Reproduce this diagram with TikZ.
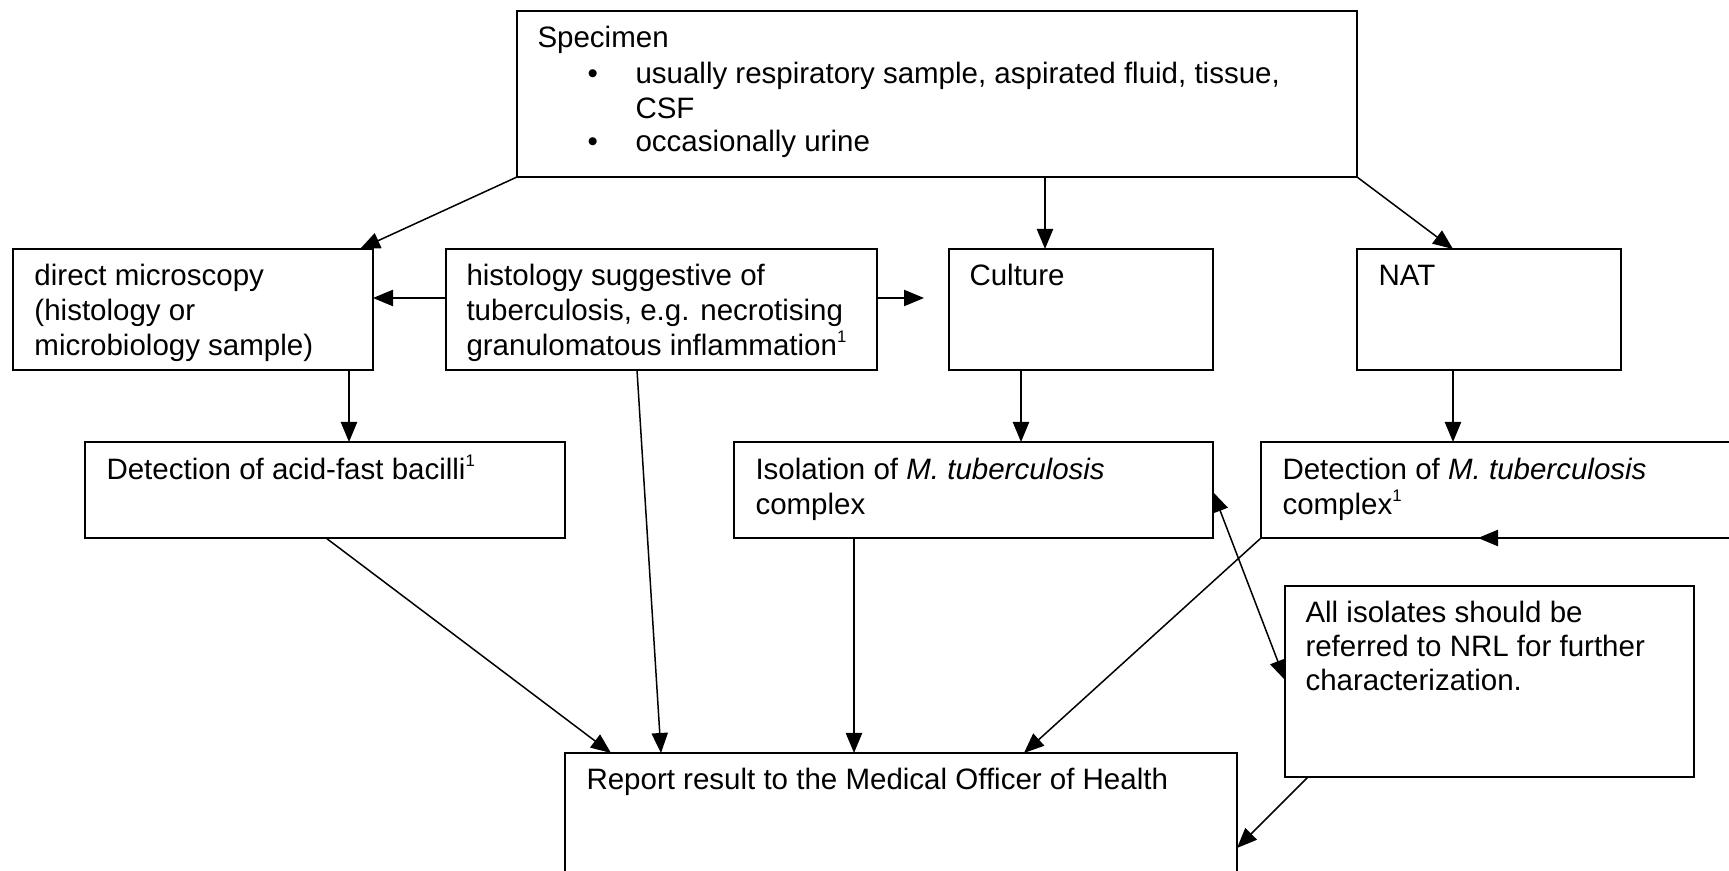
\documentclass[tikz,border=0pt]{standalone}
\usepackage{fontspec}
\setmainfont{Liberation Sans}
\usetikzlibrary{calc,arrows.meta}
\newcommand\mlines[2][14pt]{\vtop{\baselineskip=#1\lineskiplimit=-20pt\halign{##\hfil\cr#2\crcr}}}
\newcommand\fnmark{\raisebox{5.3pt}{\fontsize{6.7pt}{7pt}\selectfont 1}}
\begin{document}
\begin{tikzpicture}[x=0.4pt,y=-0.4pt,
  box/.style n args={2}{draw, line width=1pt, rectangle, anchor=north west, inner sep=0pt, outer sep=0pt,
     minimum width=#1*0.4pt, minimum height=#2*0.4pt},
  txt/.style={anchor=base west, inner sep=0pt, font=\fontsize{11.8pt}{14pt}\selectfont},
  arr/.style={-{Triangle[length=8pt,width=6.5pt]}, line width=0.6pt},
  darr/.style={{Triangle[length=8pt,width=6.5pt]}-{Triangle[length=8pt,width=6.5pt]}, line width=0.6pt}]
\useasboundingbox (0,0) rectangle (1729,871);
\fill[white] (0,0) rectangle (1729,871);
\clip (0,0) rectangle (1729,871);

% boxes
\node[box={840}{166}] (spec) at (517,11) {};
\node[box={360}{121}] (dm) at (13,249) {};
\node[box={431}{121}] (hist) at (446,249) {};
\node[box={264}{121}] (cult) at (949,249) {};
\node[box={264}{121}] (nat) at (1357,249) {};
\node[box={480}{96}] (afb) at (85,442) {};
\node[box={479}{96}] (iso) at (734,442) {};
\node[box={540}{96}] (det) at (1261,442) {};
\node[box={409}{191}] (refer) at (1285,586) {};
\node[box={672}{200}] (rep) at (565,753) {};

% texts
\node[txt] (specT) at (537,48) {Specimen};
\node[txt] (b1) at (587,84) {\textbullet};
\node[txt] (s1) at (635,84) {\mlines{usually respiratory sample, aspirated fluid, tissue,\cr CSF}};
\node[txt] (b2) at (587,152) {\textbullet};
\node[txt] (s2) at (635,152) {occasionally urine};
\node[txt] (dmT) at (34,286) {\mlines{direct microscopy\cr (histology or\cr microbiology sample)}};
\node[txt] (histT) at (466,286) {\mlines{histology suggestive of\cr tuberculosis, e.g. necrotising\cr granulomatous inflammation\fnmark}};
\node[txt] (cultT) at (969,286) {Culture};
\node[txt] (natT) at (1378,286) {NAT};
\node[txt] (afbT) at (106,480) {Detection of acid-fast bacilli\fnmark};
\node[txt] (isoT) at (755,480) {\mlines{Isolation of \textit{M. tuberculosis}\cr complex}};
\node[txt] (detT) at (1282,480) {\mlines{Detection of \textit{M. tuberculosis}\cr complex\fnmark}};
\node[txt] (referT) at (1305,623) {\mlines[13.5pt]{All isolates should be\cr referred to NRL for further\cr characterization.}};
\node[txt] (repT) at (586,790) {Report result to the Medical Officer of Health};

% connectors
\draw[arr] (spec.south west) -- ($(dm.north west)+(347,0)$);
\draw[arr] ($(spec.south west)+(528,0)$) -- ($(cult.north west)+(96,0)$);
\draw[arr] (spec.south east) -- ($(nat.north west)+(96,0)$);
\draw[arr] ($(hist.north west)+(0,49)$) -- ($(dm.north east)+(0,49)$);
\coordinate (histR) at ($(hist.north east)+(47,49)$);
\draw[arr] ($(hist.north east)+(0,49)$) -- (histR);
\draw[arr] ($(dm.south west)+(336,0)$) -- ($(afb.north west)+(264,0)$);
\draw[arr] ($(hist.south west)+(191,0)$) -- ($(rep.north west)+(96,0)$);
\draw[arr] ($(afb.south west)+(241,0)$) -- ($(rep.north west)+(46,0)$);
\draw[arr] ($(cult.south west)+(72,0)$) -- ($(iso.north west)+(287,0)$);
\draw[arr] ($(nat.south west)+(96,0)$) -- ($(det.north west)+(192,0)$);
\draw[arr] ($(iso.south west)+(120,0)$) -- ($(rep.north west)+(289,0)$);
\draw[arr] (det.south west) -- ($(rep.north west)+(459,0)$);
\draw[darr] ($(iso.north east)+(0,50)$) -- ($(refer.north west)+(0,94)$);
\coordinate (detTip) at ($(det.south west)+(217,0)$);
\draw[arr] (det.south east) -- (detTip);
\draw[arr] ($(refer.south west)+(23,0)$) -- ($(rep.north east)+(0,95)$);
\end{tikzpicture}
\end{document}
